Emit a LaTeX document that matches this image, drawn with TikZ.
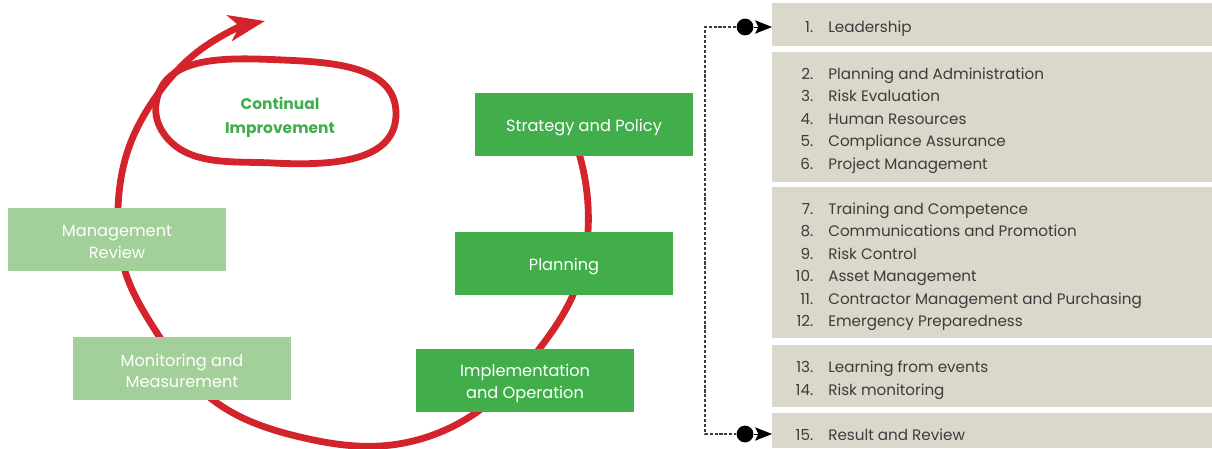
\documentclass[tikz,border=0pt]{standalone}
\usepackage{fontspec}
\setmainfont{Poppins}
\usetikzlibrary{arrows.meta,hobby}
\definecolor{stagegreen}{HTML}{42AE4B}
\definecolor{palegreen}{HTML}{A3CF9A}
\definecolor{loopred}{HTML}{D3232B}
\definecolor{panelgrey}{HTML}{D9D8CA}
\definecolor{listgrey}{HTML}{3C3C3C}
\newcommand{\itm}[2]{\makebox[0.875cm][r]{#1.}\hspace{0.375cm}#2}
\begin{document}
\begin{tikzpicture}[x=0.025cm,y=-0.025cm,
  stagebox/.style={rectangle,fill=stagegreen,minimum width=5.45cm,minimum height=1.575cm,inner sep=0pt},
  reviewbox/.style={stagebox,fill=palegreen},
  stagetext/.style={align=center,text=white,inner sep=0pt,font=\fontsize{11.5}{15.6pt}\selectfont},
  panel/.style={rectangle,fill=panelgrey,anchor=north west,minimum width=11cm,inner sep=0pt},
  listtext/.style={anchor=west,inner xsep=0.15cm,inner ysep=0pt,align=left,text=listgrey,
    font=\fontsize{10.8}{16pt}\selectfont},
  loopline/.style={draw=loopred,line width=0.17cm,use Hobby shortcut},
  linkdash/.style={draw=listgrey,line width=0.8pt,dash pattern=on 2.2pt off 1.3pt},
  dot/.style={circle,fill=black,inner sep=0pt,minimum size=0.42cm},
  pointer/.style={-{Stealth[length=0.42cm,width=0.33cm,inset=0.08cm]}}]
\useasboundingbox (0,0) rectangle (1212,448);

% red spiral
\draw[loopline,-{Stealth[length=0.9cm,width=0.65cm,inset=0.25cm]}]
  (578,150) .. (588,205) .. (573,295) .. (540,348) .. (477,412) .. (380,446) .. (300,437)
  .. (213,400) .. (157,333) .. (125,271) .. (118,208) .. (128,150) .. (155,98) .. (200,50) .. (265,21);
\draw[loopline,closed=true] (156,104) .. (283,60) .. (396,113) .. (273,163) .. (164,134);
\node[text=stagegreen,align=center,font=\fontsize{11}{17pt}\selectfont\bfseries] (improve) at (280,117)
  {Continual\\Improvement};

% stages
\node[stagebox] (strategy) at (584,124.5) {};
\node[stagebox] (planning) at (564,263.5) {};
\node[stagebox] (implement) at (525,380.5) {};
\node[reviewbox] (review) at (117,239.5) {};
\node[reviewbox] (monitor) at (182,368.5) {};
\node[stagetext] (strategy-t) at ([yshift=-0.08cm]strategy) {Strategy and Policy};
\node[stagetext] (planning-t) at ([yshift=-0.08cm]planning) {Planning};
\node[stagetext] (implement-t) at ([yshift=-0.08cm]implement) {Implementation\\and Operation};
\node[stagetext] (review-t) at ([yshift=-0.06cm]review) {Management\\Review};
\node[stagetext] (monitor-t) at ([yshift=-0.06cm]monitor) {Monitoring and\\Measurement};

% element list
\node[panel,minimum height=1.075cm] (p1) at (772,3) {};
\node[panel,minimum height=3.25cm] (p2) at (772,52) {};
\node[panel,minimum height=3.775cm] (p3) at (772,187) {};
\node[panel,minimum height=1.55cm] (p4) at (772,345) {};
\node[panel,minimum height=0.875cm] (p5) at (772,413) {};
\node[listtext] (p1-t) at ([yshift=-0.11cm]p1.west) {\itm{1}{Leadership}};
\node[listtext] (p2-t) at ([yshift=-0.08cm]p2.west) {\itm{2}{Planning and Administration}\\
  \itm{3}{Risk Evaluation}\\ \itm{4}{Human Resources}\\ \itm{5}{Compliance Assurance}\\
  \itm{6}{Project Management}};
\node[listtext] (p3-t) at ([yshift=-0.1cm]p3.west) {\itm{7}{Training and Competence}\\
  \itm{8}{Communications and Promotion}\\ \itm{9}{Risk Control}\\ \itm{10}{Asset Management}\\
  \itm{11}{Contractor Management and Purchasing}\\ \itm{12}{Emergency Preparedness}};
\node[listtext] (p4-t) at ([yshift=-0.1cm]p4.west) {\itm{13}{Learning from events}\\
  \itm{14}{Risk monitoring}};
\node[listtext] (p5-t) at ([yshift=-0.1cm]p5.west) {\itm{15}{Result and Review}};

% links
\coordinate (c1) at (705,27);
\coordinate (c5) at (705,434);
\node[dot] (d1) at (745,27) {};
\node[dot] (d5) at (745,434) {};
\draw[linkdash] (d1) -- (c1) -- (c5) -- (d5);
\draw[pointer] (d1) -- (d1 -| p1.west);
\draw[pointer] (d5) -- (d5 -| p5.west);
\end{tikzpicture}
\end{document}
